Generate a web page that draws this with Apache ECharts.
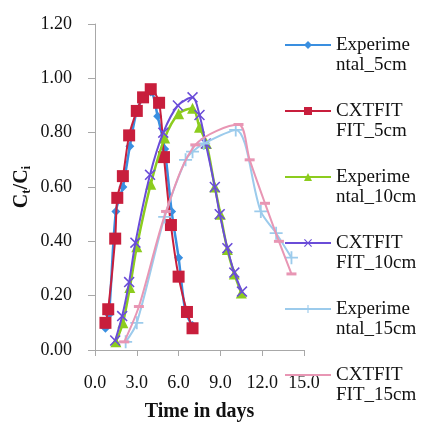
<!DOCTYPE html>
<html>
<head>
<meta charset="utf-8">
<script src="https://cdn.jsdelivr.net/npm/echarts@6/dist/echarts.min.js"></script>
<style>
  html, body { margin: 0; padding: 0; background: #fff; }
  #main { width: 422px; height: 423px; }
</style>
</head>
<body>
<div id="main"></div>
<script>
// values (time in days, Ct/Ci)
const exp5Time = [0.75, 1.0, 1.5, 2.0, 2.5, 3.0, 3.5, 4.0, 4.5, 5.0, 5.5, 6.0, 6.5, 7.0];
const exp5Val = [0.08, 0.13, 0.51, 0.60, 0.75, 0.88, 0.93, 0.95, 0.86, 0.74, 0.51, 0.34, 0.14, 0.09];

const fit5Time = [0.75, 0.95, 1.45, 1.6, 2.0, 2.45, 3.0, 3.45, 4.0, 4.6, 4.95, 5.45, 6.0, 6.6, 7.0];
const fit5Val = [0.10, 0.15, 0.41, 0.56, 0.64, 0.79, 0.88, 0.93, 0.96, 0.91, 0.71, 0.46, 0.27, 0.14, 0.08];

const exp10Time = [1.5, 2.0, 2.5, 3.0, 4.0, 5.0, 6.0, 7.0, 7.5, 8.0, 8.6, 9.0, 9.5, 10.0, 10.5];
const exp10Val = [0.03, 0.10, 0.23, 0.38, 0.61, 0.78, 0.87, 0.89, 0.82, 0.76, 0.60, 0.50, 0.37, 0.28, 0.21];

const fit10Time = [1.45, 1.95, 2.45, 2.9, 3.95, 4.9, 5.95, 7.0, 7.5, 7.95, 8.6, 8.95, 9.5, 10.0, 10.55];
const fit10Val = [0.035, 0.125, 0.25, 0.395, 0.645, 0.80, 0.90, 0.93, 0.865, 0.76, 0.60, 0.50, 0.375, 0.285, 0.215];

const exp15Time = [2.2, 3.0, 5.0, 6.5, 7.0, 7.8, 10.1, 11.9, 13.0, 14.1];
const exp15Val = [0.03, 0.10, 0.49, 0.70, 0.73, 0.76, 0.81, 0.51, 0.43, 0.34];

const fit15Time = [2.1, 3.15, 5.1, 7.2, 10.3, 11.1, 12.2, 13.2, 14.1];
const fit15Val = [0.03, 0.16, 0.51, 0.755, 0.83, 0.70, 0.54, 0.40, 0.28];

const legendFirst = ["Experime", "CXTFIT", "Experime", "CXTFIT", "Experime", "CXTFIT"];
const legendSecond = ["ntal_5cm", "FIT_5cm", "ntal_10cm", "FIT_10cm", "ntal_15cm", "FIT_15cm"];
const seriesNames = ["Experimental_5cm", "CXTFIT_5cm", "Experimental_10cm", "CXTFIT_10cm", "Experimental_15cm", "CXTFIT_15cm"];

const xTicks = [0, 3, 6, 9, 12, 15];
const yTicks = [0, 0.2, 0.4, 0.6, 0.8, 1.0, 1.2];

const FONT = "Liberation Serif";

const crossPath = "path://M0,1L1,0L5,4L9,0L10,1L6,5L10,9L9,10L5,6L1,10L0,9L4,5Z";
const plusPath = "path://M4.3,0H5.7V4.3H10V5.7H5.7V10H4.3V5.7H0V4.3H4.3Z";

function pairs(xs, ys) {
  return xs.map((x, i) => [x, ys[i]]);
}

function makeSeries(idx, xs, ys, color, symbol, size, width) {
  return {
    name: seriesNames[idx],
    type: "line",
    data: pairs(xs, ys),
    smooth: 0.3,
    symbol: symbol,
    symbolSize: size,
    showAllSymbol: true,
    lineStyle: { color: color, width: width },
    itemStyle: { color: color },
    emphasis: { disabled: true },
    z: 2 + idx,
  };
}

let chart = echarts.init(document.getElementById("main"), null, { renderer: "canvas" });

chart.setOption({
  animation: false,
  textStyle: { fontFamily: FONT },
  grid: { left: 95, right: 118, top: 24, bottom: 73, outerBoundsMode: "none", containLabel: false },
  xAxis: {
    type: "value",
    min: xTicks[0],
    max: xTicks[xTicks.length - 1],
    interval: 3,
    name: "Time in days",
    nameLocation: "middle",
    nameGap: 52,
    nameTextStyle: { fontFamily: FONT, fontWeight: "bold", fontSize: 20, color: "#111" },
    axisLine: { onZero: false, lineStyle: { color: "#a8a8a8", width: 1 } },
    axisTick: { show: true, length: 6, lineStyle: { color: "#a8a8a8" } },
    axisLabel: {
      margin: 24,
      fontFamily: FONT,
      fontSize: 18,
      color: "#111",
      formatter: (v) => v.toFixed(1),
    },
    splitLine: { show: false },
  },
  yAxis: {
    type: "value",
    min: yTicks[0],
    max: yTicks[yTicks.length - 1],
    interval: 0.2,
    name: "{m|C}{s|t}{m|/C}{s|i}",
    nameLocation: "middle",
    nameRotate: 90,
    nameGap: 62,
    nameTextStyle: {
      rich: {
        m: { fontFamily: FONT, fontWeight: "bold", fontSize: 20, color: "#111" },
        s: { fontFamily: FONT, fontWeight: "bold", fontSize: 13, color: "#111", verticalAlign: "bottom", padding: [9, 0, 0, 0] },
      },
    },
    axisLine: { show: true, lineStyle: { color: "#a8a8a8", width: 1 } },
    axisTick: { show: true, length: 7, lineStyle: { color: "#a8a8a8" } },
    axisLabel: {
      margin: 23,
      fontFamily: FONT,
      fontSize: 18,
      color: "#111",
      formatter: (v) => v.toFixed(2),
    },
    splitLine: { show: false },
  },
  legend: {
    orient: "vertical",
    left: 284,
    top: 15,
    padding: 0,
    itemWidth: 46,
    itemHeight: 10,
    itemGap: 6,
    selectedMode: false,
    // the pink fit line shows no marker in its legend entry
    data: seriesNames.map((n, i) => (i === 5 ? { name: n, itemStyle: { opacity: 0 } } : n)),
    formatter: (name) => {
      let i = seriesNames.indexOf(name);
      // empty first line keeps the icon level with the first text line
      return "{t| }\n{t|" + legendFirst[i] + "}\n{t|" + legendSecond[i] + "}";
    },
    textStyle: {
      fontFamily: FONT,
      fontSize: 19,
      lineHeight: 20,
      color: "#111",
      rich: {
        t: { fontFamily: FONT, fontSize: 19, lineHeight: 20, color: "#111" },
      },
    },
  },
  series: [
    makeSeries(0, exp5Time, exp5Val, "#3a8fe0", "diamond", 9, 2.5),
    makeSeries(1, fit5Time, fit5Val, "#c81e3c", "rect", 12, 2),
    makeSeries(2, exp10Time, exp10Val, "#8ccc1e", "triangle", 11, 2.5),
    makeSeries(3, fit10Time, fit10Val, "#6a4cd8", crossPath, 11, 2),
    makeSeries(4, exp15Time, exp15Val, "#9ccbec", plusPath, 13, 2),
    makeSeries(5, fit15Time, fit15Val, "#e896b4", "rect", [10, 3], 2),
  ],
});
</script>
</body>
</html>
